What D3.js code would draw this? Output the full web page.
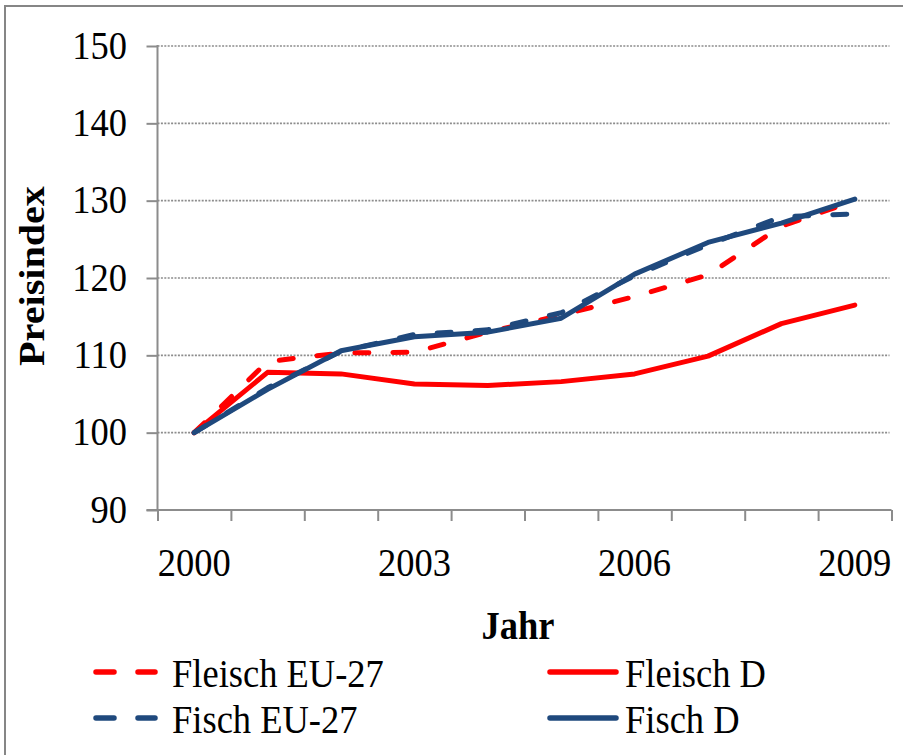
<!DOCTYPE html>
<html>
<head>
<meta charset="utf-8">
<script src="https://cdn.jsdelivr.net/npm/d3@7"></script>
<style>
  body { margin: 0; background: #fff; }
  text { font-family: "Liberation Serif", "Times New Roman", serif; fill: #000; }
</style>
</head>
<body>
<div class="chart"></div>
<script>
// data
const years = [2000, 2001, 2002, 2003, 2004, 2005, 2006, 2007, 2008, 2009];
const fleischEU = [100, 109.2, 110.3, 110.4, 113.0, 115.2, 117.6, 120.4, 126.7, 130.0];
const fleischD = [100, 107.8, 107.6, 106.3, 106.1, 106.6, 107.6, 109.9, 114.1, 116.5];
const fischEU = [100, 105.8, 110.5, 112.7, 113.3, 115.5, 120.3, 124.3, 127.9, 128.3];
const fischD = [100, 105.6, 110.6, 112.4, 113.0, 114.8, 120.5, 124.6, 127.1, 130.2];
const yTicks = [90, 100, 110, 120, 130, 140, 150];
const xLabels = [2000, 2003, 2006, 2009];

const seriesNames = ['Fleisch EU-27', 'Fleisch D', 'Fisch EU-27', 'Fisch D'];
const seriesValues = [fleischEU, fleischD, fischEU, fischD];
const seriesColors = ['#ff0000', '#ff0000', '#1f497d', '#1f497d'];
const seriesDashed = [true, false, true, false];

const width = 903, height = 755;
const plotLeft = 157.5, plotRight = 891.5, plotTop = 46, plotBottom = 510;
const fontSize = 36.5;
const stretch = 1.1; // text in the picture is a bit taller than wide

const svg = d3.select('.chart').append('svg')
  .attr('width', width)
  .attr('height', height);

// outer frame (only top and left edges are visible)
svg.append('path')
  .attr('d', `M5,${height} L5,6 L${width},6`)
  .attr('fill', 'none')
  .attr('stroke', '#868686')
  .attr('stroke-width', 2);

const x = d3.scaleBand().domain(years).range([plotLeft, plotRight]).padding(0);
const xEdge = d3.scaleLinear().domain([0, years.length]).range([plotLeft, plotRight]);
const y = d3.scaleLinear().domain([90, 150]).range([plotBottom, plotTop]);

// dotted gridlines
svg.append('g')
  .selectAll('line')
  .data(yTicks.filter(d => d > 90))
  .enter().append('line')
  .attr('x1', plotLeft)
  .attr('x2', plotRight - 2)
  .attr('y1', d => y(d))
  .attr('y2', d => y(d))
  .attr('stroke', '#8c8c8c')
  .attr('stroke-width', 1.6)
  .attr('stroke-dasharray', '2,1.4');

// y axis
const yAxis = svg.append('g')
  .attr('transform', `translate(${plotLeft},0)`)
  .call(d3.axisLeft(y).tickValues(yTicks).tickSize(11).tickSizeOuter(0).tickFormat(''));

// x axis, ticks between the categories
const xAxis = svg.append('g')
  .attr('transform', `translate(0,${plotBottom})`)
  .call(d3.axisBottom(xEdge).tickValues(d3.range(years.length + 1)).tickSize(11).tickSizeOuter(0).tickFormat(''));

svg.selectAll('.domain, .tick line')
  .attr('stroke', '#8c8c8c')
  .attr('stroke-width', 2);
yAxis.select('.domain').attr('d', `M0,${plotTop - 1}V${plotBottom}`);
xAxis.select('.domain').attr('d', `M${plotLeft - 11},0H${plotRight}`);

function stretched(px, py, extra) {
  return `translate(${px},${py}) scale(1,${stretch})` + (extra || '');
}

// y labels
svg.append('g')
  .selectAll('text')
  .data(yTicks)
  .enter().append('text')
  .attr('transform', d => stretched(127, y(d) + 12.5))
  .attr('text-anchor', 'end')
  .style('font-size', fontSize + 'px')
  .text(d => d);

// x labels
svg.append('g')
  .selectAll('text')
  .data(xLabels)
  .enter().append('text')
  .attr('transform', d => stretched(x(d) + x.bandwidth() / 2, 576))
  .attr('text-anchor', 'middle')
  .style('font-size', fontSize + 'px')
  .text(d => d);

// axis titles
svg.append('text')
  .attr('transform', stretched(44, 276, ' rotate(-90)'))
  .attr('text-anchor', 'middle')
  .style('font-size', fontSize + 'px')
  .style('font-weight', 'bold')
  .text('Preisindex');

svg.append('text')
  .attr('transform', stretched(518, 639))
  .attr('text-anchor', 'middle')
  .style('font-size', fontSize + 'px')
  .style('font-weight', 'bold')
  .text('Jahr');

// the lines
const line = d3.line()
  .x((d, i) => x(years[i]) + x.bandwidth() / 2)
  .y(d => y(d));

seriesValues.forEach(function(vals, i) {
  svg.append('path')
    .datum(vals)
    .attr('d', line)
    .attr('fill', 'none')
    .attr('stroke', seriesColors[i])
    .attr('stroke-width', 5)
    .attr('stroke-linejoin', 'round')
    .attr('stroke-linecap', 'round')
    .attr('stroke-dasharray', seriesDashed[i] ? '14,24' : null);
});

// legend, two columns by two rows
const legendX = [93, 547];
const legendY = [672, 718];
seriesNames.forEach(function(name, i) {
  const col = i % 2, row = Math.floor(i / 2);
  const lx = legendX[col], ly = legendY[row];
  const len = seriesDashed[i] ? 65 : 72;
  svg.append('line')
    .attr('x1', lx + 3)
    .attr('x2', lx + len - 3)
    .attr('y1', ly)
    .attr('y2', ly)
    .attr('stroke', seriesColors[i])
    .attr('stroke-width', 5.5)
    .attr('stroke-linecap', 'round')
    .attr('stroke-dasharray', seriesDashed[i] ? '18,24' : null);
  svg.append('text')
    .attr('transform', stretched(seriesDashed[i] ? lx + 79 : lx + 78, ly + 15))
    .style('font-size', fontSize + 'px')
    .text(name);
});
</script>
</body>
</html>
